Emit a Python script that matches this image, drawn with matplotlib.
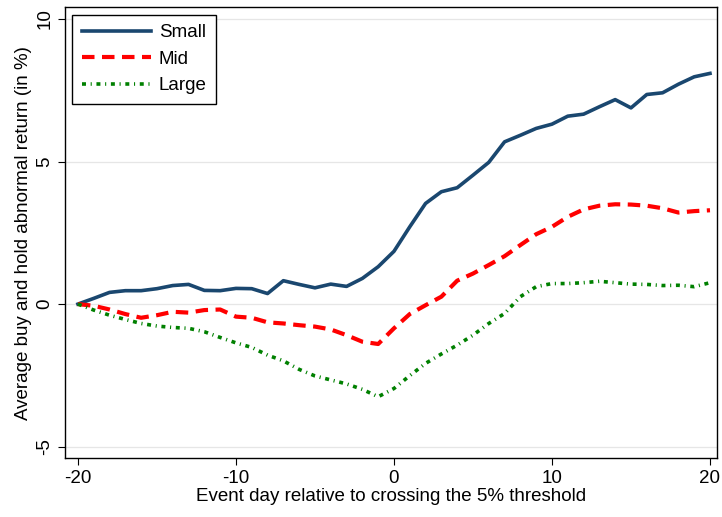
import matplotlib.pyplot as plt
import numpy as np

days = np.arange(-20, 21)

small = [0.00, 0.20, 0.41, 0.47, 0.47, 0.54, 0.65, 0.69, 0.48, 0.47,
         0.55, 0.54, 0.37, 0.82, 0.69, 0.57, 0.70, 0.62, 0.90, 1.31,
         1.85, 2.71, 3.53, 3.94, 4.08, 4.52, 4.97, 5.69, 5.92, 6.16,
         6.31, 6.59, 6.66, 6.92, 7.17, 6.88, 7.35, 7.41, 7.71, 7.97,
         8.09]
mid = [0.00, -0.06, -0.19, -0.35, -0.48, -0.39, -0.27, -0.30, -0.21, -0.19,
       -0.44, -0.48, -0.64, -0.68, -0.74, -0.79, -0.89, -1.09, -1.32, -1.40,
       -0.85, -0.35, -0.04, 0.26, 0.82, 1.07, 1.37, 1.68, 2.07, 2.45,
       2.71, 3.06, 3.32, 3.45, 3.50, 3.49, 3.45, 3.36, 3.21, 3.26,
       3.29]
large = [0.00, -0.21, -0.39, -0.54, -0.68, -0.77, -0.82, -0.85, -0.97, -1.17,
         -1.36, -1.52, -1.79, -1.99, -2.29, -2.52, -2.66, -2.80, -2.99, -3.25,
         -2.96, -2.51, -2.08, -1.75, -1.44, -1.09, -0.68, -0.33, 0.26, 0.61,
         0.72, 0.72, 0.75, 0.80, 0.75, 0.70, 0.69, 0.65, 0.66, 0.61,
         0.75]

xticks = [-20, -10, 0, 10, 20]
yticks = [-5, 0, 5, 10]


def main():
    plt.rcParams['font.family'] = ['Liberation Sans', 'DejaVu Sans']
    plt.rcParams['axes.unicode_minus'] = False
    fs = 13.5
    fig = plt.figure(figsize=(7.22, 5.17), dpi=100)
    ax = fig.add_axes([0.09, 0.114, 0.903, 0.872])

    for y in yticks:
        ax.axhline(y, color='#e6e6e6', lw=0.9, zorder=0)

    ax.plot(days, small, color='#1a476f', lw=2.6, label='Small',
            solid_joinstyle='round')
    ax.plot(days, mid, color='#ff0000', lw=3.0, dashes=(3, 1.8), label='Mid')
    ax.plot(days, large, color='#008000', lw=2.6,
            dashes=(1.1, 1.3, 0.3, 1.3), label='Large')

    ax.set_xlim(-20.82, 20.44)
    ax.set_ylim(-5.40, 10.41)
    ax.set_xticks(xticks)
    ax.set_yticks(yticks)
    ax.set_yticklabels([str(v) for v in yticks], rotation=90, va='center')
    ax.tick_params(labelsize=fs, length=5, width=0.8, direction='out')
    for s in ax.spines.values():
        s.set_linewidth(1.0)

    ax.set_xlabel('Event day relative to crossing the 5% threshold',
                  fontsize=fs, labelpad=1)
    ax.set_ylabel('Average buy and hold abnormal return (in %)',
                  fontsize=fs, labelpad=3)

    leg = ax.legend(loc='upper left', fontsize=fs, handlelength=3.7,
                    handletextpad=0.4, fancybox=False, edgecolor='black',
                    framealpha=1, borderpad=0.5, labelspacing=0.5,
                    borderaxespad=0.4, bbox_to_anchor=(0.0, 1.0))
    leg.get_frame().set_linewidth(1.0)

    fig.savefig('out.png', dpi=100)
    return 0


if __name__ == "__main__":
    main()
